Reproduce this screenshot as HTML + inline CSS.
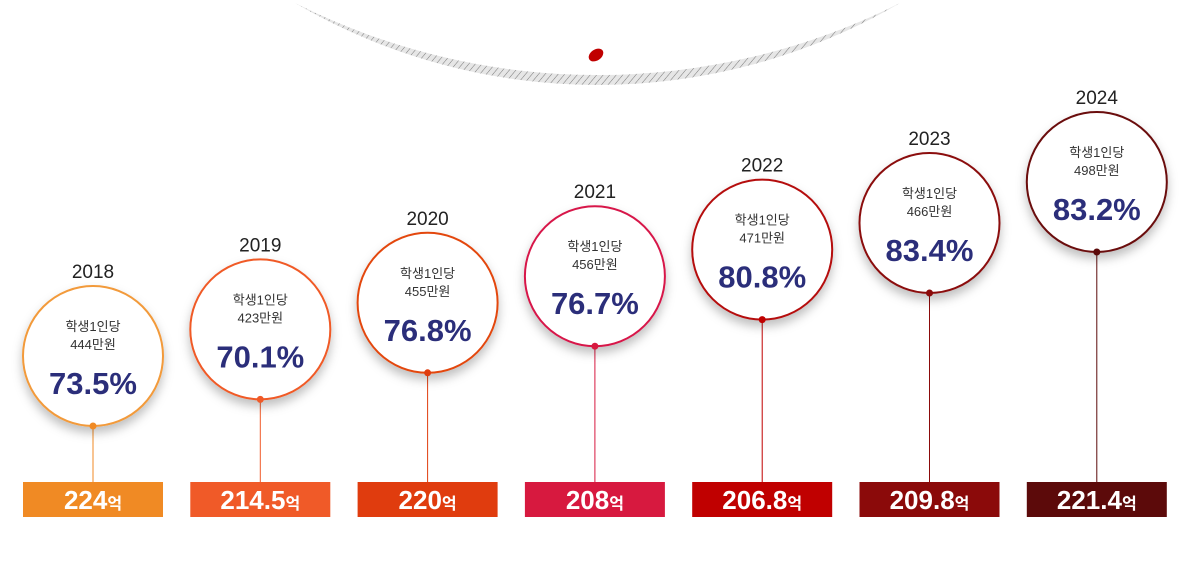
<!DOCTYPE html>
<html><head><meta charset="utf-8"><style>
body{margin:0;background:#fff;width:1190px;height:565px;overflow:hidden;font-family:"Liberation Sans","Noto Sans CJK KR",sans-serif}
</style></head><body>
<svg id="chart" width="1190" height="565" xmlns="http://www.w3.org/2000/svg">
<defs>
<pattern id="hatch" width="5" height="5" patternUnits="userSpaceOnUse" patternTransform="rotate(40)">
<rect width="5" height="5" fill="#e6e6e6"/><line x1="0" y1="0" x2="0" y2="5" stroke="#777" stroke-width="1"/>
</pattern>
<filter id="sh" x="-30%" y="-30%" width="160%" height="170%"><feDropShadow dx="0" dy="6" stdDeviation="5" flood-color="#000" flood-opacity="0.25"/></filter>
</defs>
<path d="M295,3 A599,599 0 0 0 900,3 A671,671 0 0 1 295,3 Z" fill="url(#hatch)"/>
<ellipse cx="596" cy="55" rx="8" ry="5.5" transform="rotate(-35 596 55)" fill="#c00000"/>
<g id="cols"></g>
</svg>
<script>
const years=["2018","2019","2020","2021","2022","2023","2024"];
const perStudent=["444","423","455","456","471","466","498"];
const rates=[73.5,70.1,76.8,76.7,80.8,83.4,83.2];
const budgets=["224","214.5","220","208","206.8","209.8","221.4"];
const colors=["#f08a24","#f05a28","#e03c0e","#d7193f","#c00000","#8b0a0a","#5c0a0a"];
const ringColors=["#f29a3a","#f05a28","#e3470f","#d7194a","#b51010","#8b1010","#6b0b0b"];
const ns="http://www.w3.org/2000/svg";
const g=document.getElementById('cols');
function colX(i){return 93+i*167.3;}
function circleY(i){return i<6?356-i*26.6:182;}
function mk(t,a,p){const e=document.createElementNS(ns,t);for(const k in a)e.setAttribute(k,a[k]);p.appendChild(e);return e;}
years.forEach((y,i)=>{
 const x=colX(i),cy=circleY(i),r=70;
 const grp=mk('g',{},g);
 
 
 const ln=mk('line',{x1:x,y1:cy+r,x2:x,y2:482,stroke:colors[i],'stroke-width':1},grp);
 
 
 const c=mk('circle',{cx:x,cy:cy,r:r,fill:'#fff',stroke:ringColors[i],'stroke-width':2,filter:'url(#sh)'},grp);
 
 
 const d=mk('circle',{cx:x,cy:cy+r,r:3.5,fill:colors[i]},grp);
 
 
 const yt=mk('text',{x:x,y:cy-r-8,'text-anchor':'middle','font-size':19,fill:'#222'},grp);yt.textContent=y;
 
 
 const t1=mk('text',{x:x,y:cy-25,'text-anchor':'middle','font-size':13,fill:'#333'},grp);t1.textContent='학생1인당';
 
 
 const t2=mk('text',{x:x,y:cy-7,'text-anchor':'middle','font-size':13,fill:'#333'},grp);t2.textContent=perStudent[i]+'만원';
 
 
 const t3=mk('text',{x:x,y:cy+38,'text-anchor':'middle','font-size':31,'font-weight':'bold',fill:'#2b2e7a'},grp);t3.textContent=rates[i].toFixed(1)+'%';
 
 
 const b=mk('rect',{x:x-70,y:482,width:140,height:35,fill:colors[i]},grp);
 
 
 const bt=mk('text',{x:x,y:509,'text-anchor':'middle','font-size':26,'font-weight':'bold',fill:'#fff'},grp);
 
 
 const s1=mk('tspan',{},bt);s1.textContent=budgets[i];
 const s2=mk('tspan',{'font-size':16},bt);s2.textContent='억';
});
</script>
</body></html>
